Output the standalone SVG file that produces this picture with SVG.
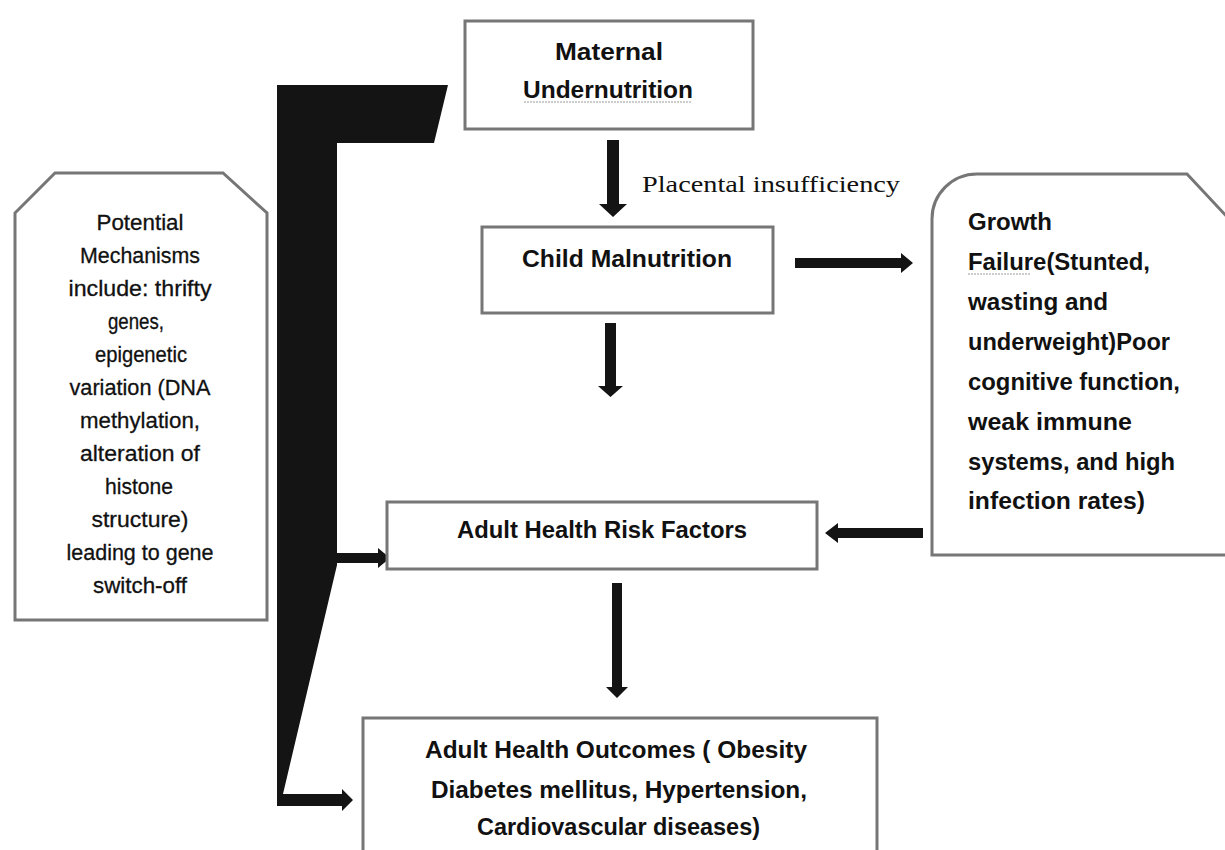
<svg xmlns="http://www.w3.org/2000/svg" width="1225" height="850" viewBox="0 0 1225 850">
<style>
.box{fill:#fff;stroke:#767676;stroke-width:3}
.t{font-family:"Liberation Sans",Arial,sans-serif;font-weight:bold;font-size:23px;fill:#111}
.tl{font-family:"Liberation Sans",Arial,sans-serif;font-weight:normal;font-size:22px;fill:#111;text-anchor:middle;stroke:#111;stroke-width:0.3}
.c{text-anchor:middle}
.s{font-family:"Liberation Serif","Times New Roman",serif;font-size:24px;fill:#111}
.blk{fill:#141414}
.ul{stroke:#9a9a9a;stroke-width:1;stroke-dasharray:2 1}
</style>
<rect width="1225" height="850" fill="#fff"/>
<g id="connectors">
<polygon class="blk" points="277,85 448,85 434,143 337,143 337,565 283,794 277,794"/>
<polygon class="blk" points="337,553 378,553 378,548 390,558 378,568 378,563 337,563"/>
<polygon class="blk" points="277,794 342,794 342,789 353,800 342,811 342,806 277,806"/>
<polygon class="blk" points="607,140 619,140 619,204 627,204 613,217 599,204 607,204"/>
<polygon class="blk" points="605,323 616,323 616,386 623,386 610.5,397 598,386 605,386"/>
<polygon class="blk" points="612,583 622,583 622,687 628,687 617,698 606,687 612,687"/>
<polygon class="blk" points="795,258 901,258 901,253 913,263 901,273 901,268 795,268"/>
<polygon class="blk" points="923,528 838,528 838,523 825,533 838,543 838,538 923,538"/>
<text class="s" x="642" y="192" textLength="258" lengthAdjust="spacingAndGlyphs">Placental insufficiency</text>
</g>
<g id="maternal">
<rect class="box" x="465" y="21" width="288" height="108"/>
<text class="t c" x="609" y="60" textLength="108" lengthAdjust="spacingAndGlyphs">Maternal</text>
<text class="t c" x="608" y="98" textLength="170" lengthAdjust="spacingAndGlyphs">Undernutrition</text>
<line class="ul" x1="524" y1="102" x2="692" y2="102"/>
</g>
<g id="child">
<rect class="box" x="482" y="227" width="291" height="86"/>
<text class="t" x="522" y="267" textLength="210" lengthAdjust="spacingAndGlyphs">Child Malnutrition</text>
</g>
<g id="risk">
<rect class="box" x="387" y="502" width="430" height="67"/>
<text class="t" x="457" y="538" textLength="290" lengthAdjust="spacingAndGlyphs">Adult Health Risk Factors</text>
</g>
<g id="outcomes">
<rect class="box" x="363" y="718" width="514" height="150"/>
<text class="t" x="425" y="758" textLength="382" lengthAdjust="spacingAndGlyphs">Adult Health Outcomes ( Obesity</text>
<text class="t" x="431" y="798" textLength="376" lengthAdjust="spacingAndGlyphs">Diabetes mellitus, Hypertension,</text>
<text class="t" x="477" y="835" textLength="283" lengthAdjust="spacingAndGlyphs">Cardiovascular diseases)</text>
</g>
<g id="mechanisms">
<path class="box" d="M15,213 L55,173 L223,173 L267,213 L267,620 L15,620 Z"/>
<text class="tl" x="140" y="230" textLength="87" lengthAdjust="spacingAndGlyphs">Potential</text>
<text class="tl" x="140" y="263" textLength="120" lengthAdjust="spacingAndGlyphs">Mechanisms</text>
<text class="tl" x="140" y="296" textLength="143" lengthAdjust="spacingAndGlyphs">include: thrifty</text>
<text class="tl" x="136" y="329" textLength="56" lengthAdjust="spacingAndGlyphs">genes,</text>
<text class="tl" x="141" y="362" textLength="92" lengthAdjust="spacingAndGlyphs">epigenetic</text>
<text class="tl" x="140" y="395" textLength="141" lengthAdjust="spacingAndGlyphs">variation (DNA</text>
<text class="tl" x="140" y="428" textLength="120" lengthAdjust="spacingAndGlyphs">methylation,</text>
<text class="tl" x="140" y="461" textLength="120" lengthAdjust="spacingAndGlyphs">alteration of</text>
<text class="tl" x="139" y="494" textLength="68" lengthAdjust="spacingAndGlyphs">histone</text>
<text class="tl" x="140" y="527" textLength="97" lengthAdjust="spacingAndGlyphs">structure)</text>
<text class="tl" x="140" y="560" textLength="147" lengthAdjust="spacingAndGlyphs">leading to gene</text>
<text class="tl" x="140" y="593" textLength="94" lengthAdjust="spacingAndGlyphs">switch-off</text>
</g>
<g id="growth">
<path class="box" d="M932,219 A45,45 0 0 1 977,174 L1187,174 L1230,220 L1230,555 L932,555 Z"/>
<text class="t" x="968" y="230" textLength="84" lengthAdjust="spacingAndGlyphs">Growth</text>
<text class="t" x="968" y="270" textLength="182" lengthAdjust="spacingAndGlyphs">Failure(Stunted,</text>
<line class="ul" x1="968" y1="274" x2="1030" y2="274"/>
<text class="t" x="968" y="310" textLength="140" lengthAdjust="spacingAndGlyphs">wasting and</text>
<text class="t" x="968" y="350" textLength="202" lengthAdjust="spacingAndGlyphs">underweight)Poor</text>
<text class="t" x="968" y="390" textLength="212" lengthAdjust="spacingAndGlyphs">cognitive function,</text>
<text class="t" x="968" y="430" textLength="164" lengthAdjust="spacingAndGlyphs">weak immune</text>
<text class="t" x="968" y="470" textLength="207" lengthAdjust="spacingAndGlyphs">systems, and high</text>
<text class="t" x="968" y="509" textLength="177" lengthAdjust="spacingAndGlyphs">infection rates)</text>
</g>
</svg>
